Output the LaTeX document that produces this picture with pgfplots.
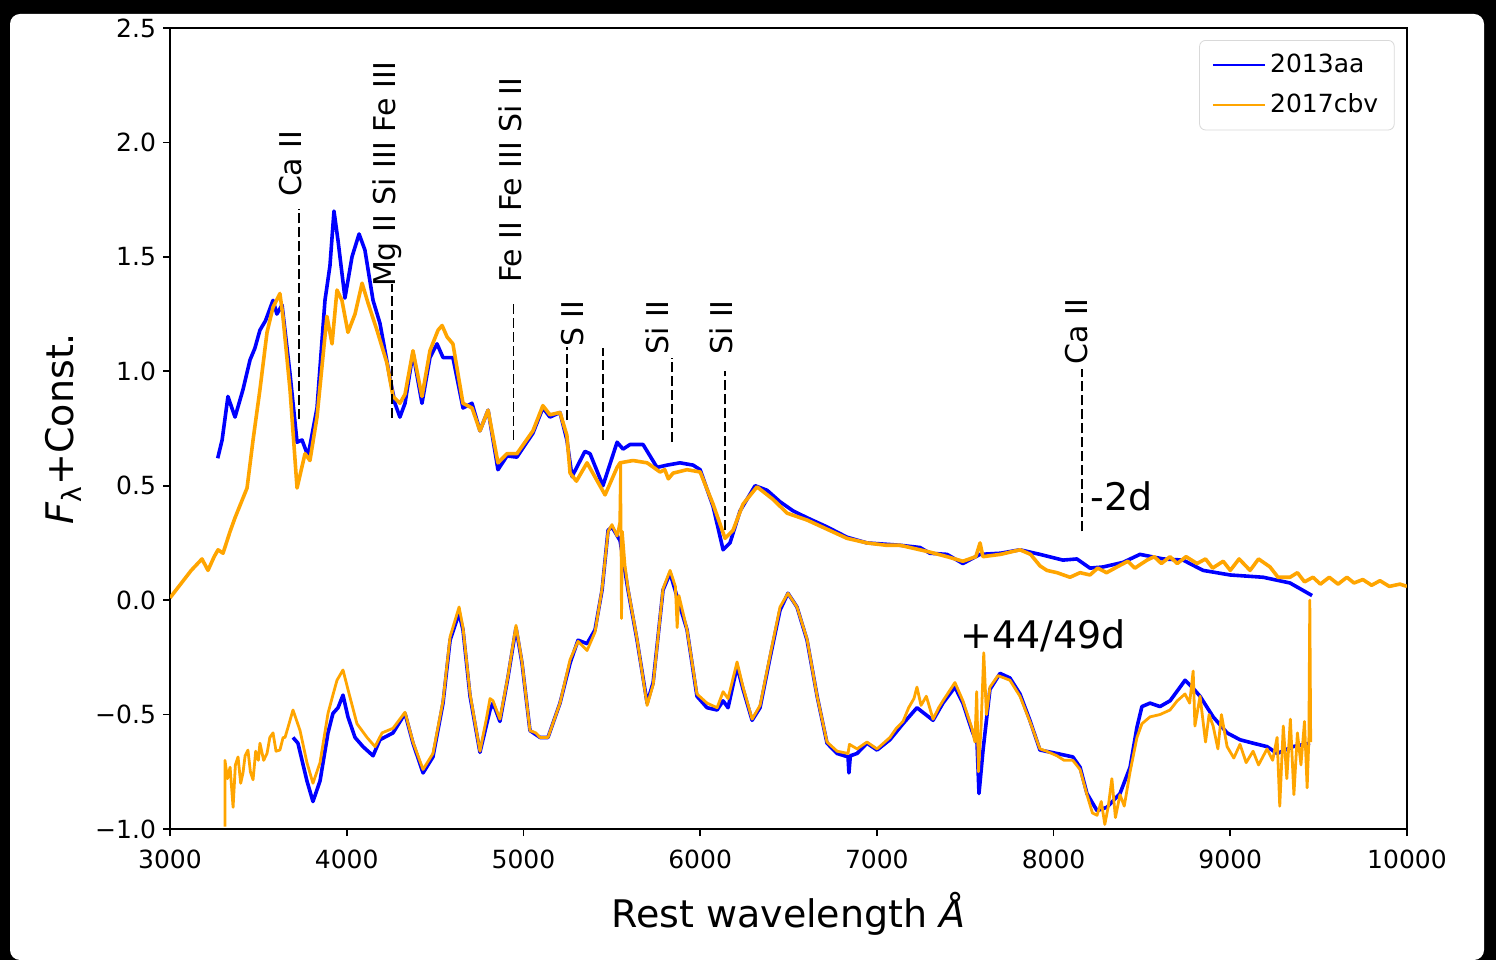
\documentclass[border=0pt]{standalone}
\usepackage{fontspec}
\setmainfont{DejaVu Sans}
\usepackage{pgfplots}
\pgfplotsset{compat=1.18}
\definecolor{mplblue}{RGB}{0,0,255}
\definecolor{mplorange}{RGB}{255,165,0}

\begin{document}
\begin{tikzpicture}
\fill[black] (0,0) rectangle (748pt,480pt);
\fill[white, rounded corners=5pt] (5pt,0pt) rectangle (742pt,473pt);
\begin{axis}[
  at={(85pt,65.5pt)}, anchor=south west,
  scale only axis, width=618.5pt, height=400.5pt,
  xmin=3000, xmax=10000, ymin=-1, ymax=2.5,
  scaled x ticks=false,
  xtick={3000,4000,5000,6000,7000,8000,9000,10000},
  ytick={-1,-0.5,0,0.5,1,1.5,2,2.5},
  xticklabels={3000,4000,5000,6000,7000,8000,9000,10000},
  yticklabels={−1.0,−0.5,0.0,0.5,1.0,1.5,2.0,2.5},
  tick align=outside, xtick pos=lower, ytick pos=left,
  major tick length=3.5pt,
  tick style={black, line width=0.8pt},
  axis line style={line width=1pt},
  ticklabel style={font=\fontsize{12.5}{14}\selectfont},
  xticklabel style={yshift=-3.5pt},
  xlabel={Rest wavelength {\itshape Å}},
  ylabel={{\itshape F}\textsubscript{λ}+Const.},
  xlabel style={yshift=-5pt},
  label style={font=\fontsize{19}{22}\selectfont},
  legend style={at={(0.99,0.985)}, anchor=north east, draw=black!15,
    rounded corners=3pt, font=\fontsize{12.5}{14}\selectfont,
    row sep=5pt, inner xsep=6pt, inner ysep=5pt},
  legend cell align=left,
  legend image code/.code={\draw[#1, line width=1.3pt] (0pt,0pt) -- (26pt,0pt);},
  every axis plot/.append style={line width=1.8pt, line join=round},
]
% -2d, 2013aa
\addplot[mplblue] coordinates {
(3270,0.62) (3295,0.70) (3328,0.89) (3350,0.84) (3368,0.80) (3413,0.92)
(3453,1.05) (3480,1.10) (3509,1.18) (3540,1.22) (3583,1.31) (3605,1.25)
(3634,1.29) (3679,0.99) (3719,0.69) (3747,0.70) (3781,0.63) (3832,0.84)
(3877,1.31) (3905,1.46) (3928,1.70) (3951,1.57) (3990,1.32) (4030,1.50)
(4070,1.60) (4103,1.53) (4149,1.31) (4188,1.21) (4245,0.97) (4273,0.86)
(4301,0.80) (4330,0.86) (4375,1.08) (4426,0.86) (4471,1.06) (4511,1.12)
(4545,1.06) (4601,1.06) (4658,0.84) (4709,0.86) (4754,0.74) (4800,0.83)
(4856,0.57) (4907,0.63) (4963,0.625) (5054,0.73) (5110,0.84) (5150,0.80)
(5207,0.82) (5246,0.70) (5275,0.54) (5348,0.65) (5377,0.64) (5450,0.50)
(5530,0.69) (5564,0.66) (5603,0.68) (5677,0.68) (5756,0.58) (5813,0.59)
(5886,0.60) (5960,0.59) (6000,0.57) (6073,0.41) (6130,0.22) (6169,0.25)
(6226,0.39) (6311,0.50) (6379,0.48) (6452,0.43) (6526,0.39) (6605,0.36)
(6718,0.32) (6831,0.275) (6944,0.25) (7130,0.24) (7244,0.23) (7300,0.205)
(7397,0.20) (7487,0.16) (7584,0.20) (7700,0.205) (7810,0.22) (7923,0.20)
(8053,0.175) (8132,0.18) (8206,0.14) (8280,0.145) (8393,0.165) (8489,0.20)
(8620,0.18) (8733,0.175) (8846,0.13) (8999,0.11) (9186,0.10) (9338,0.075)
(9463,0.02)
};
\addlegendentry{2013aa}
% -2d, 2017cbv
\addplot[mplorange] coordinates {
(3000,0.01) (3060,0.07) (3120,0.13) (3181,0.18) (3215,0.13) (3250,0.19)
(3272,0.22) (3300,0.205) (3340,0.30) (3368,0.36) (3436,0.49) (3470,0.70)
(3509,0.92) (3549,1.17) (3583,1.28) (3622,1.34) (3639,1.24) (3679,0.92)
(3719,0.49) (3764,0.64) (3792,0.61) (3832,0.80) (3888,1.24) (3917,1.12)
(3945,1.355) (3973,1.31) (4007,1.17) (4047,1.25) (4087,1.385) (4120,1.30)
(4171,1.18) (4228,1.035) (4262,0.89) (4301,0.86) (4330,0.90) (4375,1.09)
(4426,0.89) (4471,1.09) (4517,1.18) (4540,1.20) (4568,1.15) (4601,1.12)
(4658,0.86) (4709,0.84) (4754,0.74) (4800,0.83) (4856,0.60) (4907,0.64)
(4963,0.64) (5054,0.74) (5110,0.85) (5150,0.81) (5207,0.82) (5246,0.72)
(5264,0.555) (5300,0.52) (5360,0.60) (5462,0.46) (5530,0.58) (5547,0.60)
(5620,0.61) (5700,0.60) (5773,0.56) (5800,0.57) (5820,0.53) (5847,0.555)
(5926,0.57) (6000,0.56) (6073,0.42) (6141,0.27) (6186,0.305) (6243,0.42)
(6322,0.495) (6413,0.44) (6492,0.38) (6605,0.35) (6718,0.31) (6831,0.27)
(6944,0.25) (7050,0.24) (7130,0.24) (7244,0.22) (7300,0.21) (7397,0.19)
(7487,0.17) (7560,0.19) (7584,0.25) (7600,0.19) (7700,0.20) (7810,0.22)
(7870,0.20) (7923,0.15) (7962,0.13) (8020,0.12) (8093,0.10) (8150,0.12)
(8206,0.11) (8250,0.14) (8300,0.12) (8359,0.145) (8420,0.17) (8460,0.14)
(8529,0.175) (8570,0.19) (8610,0.16) (8659,0.19) (8700,0.16) (8750,0.19)
(8812,0.16) (8860,0.18) (8900,0.14) (8960,0.17) (9000,0.13) (9050,0.18)
(9112,0.13) (9160,0.18) (9225,0.145) (9270,0.10) (9338,0.10) (9380,0.12)
(9420,0.08) (9468,0.10) (9510,0.07) (9560,0.10) (9610,0.07) (9660,0.10)
(9700,0.075) (9750,0.09) (9800,0.065) (9847,0.085) (9900,0.06) (9960,0.07)
(10000,0.06)
};
\addlegendentry{2017cbv}
% +44d, 2013aa
\addplot[mplblue, forget plot] coordinates {
(3696,-0.60) (3724,-0.625) (3775,-0.79) (3809,-0.88) (3849,-0.79) (3894,-0.58)
(3922,-0.495) (3951,-0.47) (3979,-0.415) (4007,-0.51) (4047,-0.60) (4092,-0.64)
(4149,-0.68) (4188,-0.61) (4262,-0.58) (4330,-0.495) (4375,-0.625) (4432,-0.755)
(4488,-0.685) (4545,-0.45) (4585,-0.175) (4636,-0.057) (4658,-0.13) (4698,-0.42)
(4754,-0.665) (4811,-0.48) (4828,-0.45) (4867,-0.53) (4913,-0.335) (4958,-0.12)
(4992,-0.275) (5037,-0.57) (5094,-0.60) (5139,-0.60) (5207,-0.45) (5264,-0.275)
(5309,-0.175) (5360,-0.19) (5405,-0.13) (5445,0.044) (5479,0.305) (5501,0.32)
(5547,0.26) (5592,0.044) (5643,-0.175) (5700,-0.45) (5734,-0.36) (5790,0.044)
(5830,0.118) (5875,0.0) (5926,-0.13) (5982,-0.42) (6039,-0.47) (6096,-0.48)
(6130,-0.44) (6158,-0.47) (6209,-0.29) (6243,-0.39) (6294,-0.525) (6339,-0.47)
(6396,-0.25) (6452,-0.044) (6497,0.03) (6548,-0.03) (6605,-0.175) (6662,-0.42)
(6718,-0.625) (6775,-0.67) (6837,-0.685) (6842,-0.755) (6850,-0.68) (6888,-0.67)
(6944,-0.625) (7001,-0.655) (7074,-0.61) (7148,-0.54) (7227,-0.47) (7318,-0.525)
(7374,-0.45) (7442,-0.38) (7487,-0.45) (7538,-0.57) (7567,-0.625) (7578,-0.845)
(7601,-0.655) (7640,-0.39) (7685,-0.335) (7697,-0.32) (7753,-0.34) (7810,-0.41)
(7866,-0.525) (7923,-0.655) (8019,-0.67) (8109,-0.685) (8150,-0.73) (8189,-0.845)
(8246,-0.92) (8302,-0.905) (8376,-0.845) (8433,-0.73) (8472,-0.555) (8500,-0.465)
(8546,-0.45) (8602,-0.465) (8659,-0.44) (8716,-0.38) (8744,-0.35) (8784,-0.38)
(8829,-0.42) (8903,-0.51) (8982,-0.58) (9055,-0.61) (9129,-0.625) (9208,-0.64)
(9265,-0.67) (9355,-0.64) (9451,-0.625)
};
% +49d, 2017cbv
\addplot[mplorange, forget plot, line width=1.4pt] coordinates {
(3311,-0.99) (3311,-0.70) (3325,-0.78) (3340,-0.73) (3357,-0.905) (3370,-0.72)
(3385,-0.685) (3400,-0.80) (3413,-0.755) (3425,-0.68) (3441,-0.655) (3455,-0.75)
(3470,-0.785) (3485,-0.66) (3500,-0.70) (3509,-0.625) (3530,-0.70) (3549,-0.67)
(3565,-0.60) (3583,-0.58) (3600,-0.66) (3622,-0.655) (3640,-0.60) (3651,-0.60)
(3670,-0.55) (3696,-0.48) (3736,-0.57) (3775,-0.71) (3809,-0.80) (3849,-0.71)
(3894,-0.495) (3920,-0.42) (3945,-0.35) (3979,-0.305) (4007,-0.39) (4058,-0.54)
(4115,-0.60) (4160,-0.64) (4200,-0.58) (4262,-0.56) (4330,-0.49) (4375,-0.62)
(4432,-0.74) (4488,-0.67) (4545,-0.44) (4585,-0.16) (4636,-0.03) (4658,-0.12)
(4698,-0.41) (4754,-0.66) (4790,-0.52) (4811,-0.43) (4828,-0.44) (4867,-0.52)
(4913,-0.33) (4958,-0.11) (4992,-0.27) (5037,-0.57) (5070,-0.58) (5094,-0.60)
(5139,-0.60) (5207,-0.45) (5264,-0.26) (5309,-0.18) (5360,-0.22) (5405,-0.14)
(5445,0.05) (5479,0.30) (5501,0.33) (5530,0.28) (5545,0.34) (5550,0.60)
(5555,-0.08) (5560,0.30) (5575,0.15) (5592,0.05) (5643,-0.17) (5700,-0.46)
(5734,-0.37) (5790,0.05) (5830,0.13) (5860,0.06) (5870,-0.12) (5880,0.02)
(5926,-0.13) (5982,-0.41) (6039,-0.45) (6096,-0.47) (6130,-0.40) (6158,-0.43)
(6209,-0.27) (6243,-0.38) (6294,-0.52) (6339,-0.46) (6396,-0.24) (6452,-0.03)
(6497,0.03) (6548,-0.03) (6605,-0.17) (6662,-0.42) (6718,-0.62) (6775,-0.66)
(6837,-0.67) (6845,-0.63) (6888,-0.65) (6944,-0.62) (7001,-0.65) (7074,-0.60)
(7110,-0.56) (7148,-0.53) (7180,-0.47) (7210,-0.43) (7227,-0.38) (7250,-0.46)
(7280,-0.42) (7318,-0.52) (7350,-0.47) (7374,-0.44) (7442,-0.36) (7487,-0.44)
(7538,-0.56) (7555,-0.62) (7565,-0.40) (7575,-0.75) (7590,-0.55) (7605,-0.23)
(7620,-0.50) (7640,-0.38) (7685,-0.33) (7720,-0.34) (7753,-0.35) (7810,-0.42)
(7866,-0.53) (7923,-0.65) (7960,-0.66) (8019,-0.68) (8060,-0.70) (8109,-0.70)
(8150,-0.74) (8189,-0.85) (8220,-0.93) (8246,-0.94) (8270,-0.88) (8290,-0.98)
(8310,-0.90) (8330,-0.78) (8350,-0.95) (8376,-0.85) (8400,-0.90) (8433,-0.75)
(8472,-0.60) (8500,-0.54) (8546,-0.51) (8602,-0.50) (8659,-0.48) (8700,-0.44)
(8744,-0.41) (8770,-0.45) (8790,-0.31) (8800,-0.55) (8829,-0.42) (8860,-0.62)
(8880,-0.50) (8903,-0.55) (8930,-0.65) (8950,-0.50) (8982,-0.64) (9020,-0.69)
(9055,-0.63) (9090,-0.71) (9129,-0.66) (9160,-0.72) (9208,-0.65) (9240,-0.70)
(9265,-0.60) (9280,-0.90) (9300,-0.55) (9320,-0.78) (9340,-0.52) (9360,-0.85)
(9380,-0.58) (9400,-0.72) (9420,-0.53) (9435,-0.82) (9445,-0.60) (9450,0.0)
(9455,-0.62)
};
% line identifications
\pgfplotsset{idline/.style={black, line width=0.9pt, dash pattern=on 5pt off 2pt, forget plot}}
\addplot[idline] coordinates {(3730,0.79) (3730,1.71)};
\addplot[idline] coordinates {(4256,0.795) (4256,1.38)};
\addplot[idline] coordinates {(4944,0.70) (4944,1.30)};
\addplot[idline] coordinates {(5247,0.785) (5247,1.105)};
\addplot[idline] coordinates {(5450,0.70) (5450,1.10)};
\addplot[idline] coordinates {(5841,0.69) (5841,1.06)};
\addplot[idline] coordinates {(6141,0.305) (6141,1.00)};
\addplot[idline] coordinates {(8161,0.30) (8161,1.01)};
\begin{scope}[every node/.style={rotate=90, anchor=mid west, inner sep=0pt, font=\fontsize{15}{18}\selectfont}]
\node at (axis cs:3713,1.76) {Ca II};
\node at (axis cs:4245,1.367) {Mg II Si III Fe III};
\node at (axis cs:4958,1.385) {Fe II Fe III Si II};
\node at (axis cs:5309,1.105) {S II};
\node at (axis cs:5790,1.07) {Si II};
\node at (axis cs:6152,1.07) {Si II};
\node at (axis cs:8161,1.027) {Ca II};
\end{scope}
\node[anchor=base west, inner sep=0pt, font=\fontsize{19}{22}\selectfont] at (axis cs:8206,0.39) {-2d};
\node[anchor=base west, inner sep=0pt, font=\fontsize{19}{22}\selectfont] at (axis cs:7471,-0.21) {+44/49d};
\end{axis}
\end{tikzpicture}
\end{document}
